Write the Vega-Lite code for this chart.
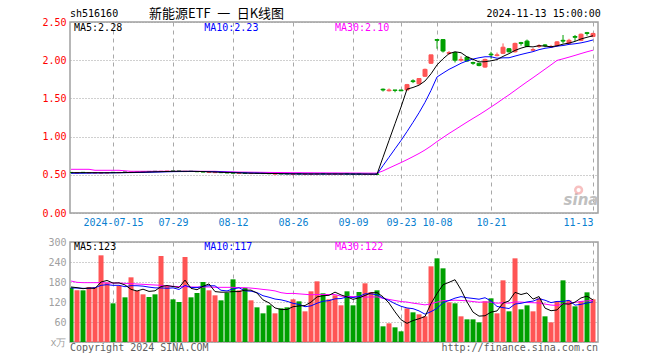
{
"$schema":"https://vega.github.io/schema/vega-lite/v6.json",
"autosize":{"type":"pad"},
"padding":{"left":41,"top":6,"right":0,"bottom":0},
"background":"white",
"spacing":29,
"bounds":"flush",
"datasets":{"k":[
{"i":0,"o":0.531,"h":0.533,"l":0.526,"c":0.528,"v":163,"d":"d","m5":0.528,"m10":0.520,"m30":0.572,"v5":165,"v10":162,"v30":183},
{"i":1,"o":0.524,"h":0.529,"l":0.522,"c":0.527,"v":155,"d":"u","m5":0.528,"m10":0.520,"m30":0.572,"v5":163,"v10":162,"v30":179},
{"i":2,"o":0.532,"h":0.534,"l":0.527,"c":0.529,"v":155,"d":"d","m5":0.528,"m10":0.521,"m30":0.572,"v5":160,"v10":161,"v30":178},
{"i":3,"o":0.525,"h":0.530,"l":0.523,"c":0.528,"v":165,"d":"u","m5":0.528,"m10":0.522,"m30":0.572,"v5":162,"v10":161,"v30":178},
{"i":4,"o":0.524,"h":0.529,"l":0.522,"c":0.527,"v":165,"d":"u","m5":0.528,"m10":0.523,"m30":0.559,"v5":160.6,"v10":163,"v30":178},
{"i":5,"o":0.523,"h":0.528,"l":0.521,"c":0.526,"v":260,"d":"u","m5":0.527,"m10":0.524,"m30":0.559,"v5":180,"v10":170,"v30":178},
{"i":6,"o":0.524,"h":0.529,"l":0.522,"c":0.527,"v":178,"d":"u","m5":0.527,"m10":0.525,"m30":0.559,"v5":184.6,"v10":172,"v30":177},
{"i":7,"o":0.532,"h":0.534,"l":0.527,"c":0.529,"v":116,"d":"d","m5":0.527,"m10":0.526,"m30":0.559,"v5":176.8,"v10":170,"v30":177},
{"i":8,"o":0.528,"h":0.533,"l":0.526,"c":0.531,"v":168,"d":"u","m5":0.528,"m10":0.527,"m30":0.559,"v5":177.4,"v10":170,"v30":177},
{"i":9,"o":0.536,"h":0.538,"l":0.531,"c":0.533,"v":134,"d":"d","m5":0.529,"m10":0.528,"m30":0.552,"v5":171.2,"v10":165.9,"v30":176},
{"i":10,"o":0.532,"h":0.537,"l":0.530,"c":0.535,"v":194,"d":"u","m5":0.531,"m10":0.529,"m30":0.546,"v5":158,"v10":169,"v30":175},
{"i":11,"o":0.534,"h":0.539,"l":0.532,"c":0.537,"v":153,"d":"u","m5":0.533,"m10":0.530,"m30":0.546,"v5":153,"v10":168.8,"v30":174},
{"i":12,"o":0.536,"h":0.541,"l":0.534,"c":0.539,"v":143,"d":"u","m5":0.535,"m10":0.531,"m30":0.546,"v5":158.4,"v10":167.6,"v30":173},
{"i":13,"o":0.544,"h":0.546,"l":0.539,"c":0.541,"v":135,"d":"d","m5":0.537,"m10":0.533,"m30":0.546,"v5":151.8,"v10":164.6,"v30":172},
{"i":14,"o":0.546,"h":0.548,"l":0.541,"c":0.543,"v":143,"d":"d","m5":0.539,"m10":0.535,"m30":0.546,"v5":153.6,"v10":162.4,"v30":171},
{"i":15,"o":0.543,"h":0.548,"l":0.541,"c":0.546,"v":258,"d":"u","m5":0.541,"m10":0.537,"m30":0.546,"v5":166.4,"v10":162.2,"v30":170},
{"i":16,"o":0.545,"h":0.550,"l":0.543,"c":0.548,"v":168,"d":"u","m5":0.543,"m10":0.539,"m30":0.546,"v5":169.4,"v10":161.2,"v30":168},
{"i":17,"o":0.550,"h":0.552,"l":0.545,"c":0.547,"v":128,"d":"d","m5":0.545,"m10":0.541,"m30":0.546,"v5":166.4,"v10":162.4,"v30":167},
{"i":18,"o":0.549,"h":0.551,"l":0.544,"c":0.546,"v":120,"d":"d","m5":0.546,"m10":0.542,"m30":0.546,"v5":163.4,"v10":157.6,"v30":166},
{"i":19,"o":0.542,"h":0.547,"l":0.540,"c":0.545,"v":255,"d":"u","m5":0.546,"m10":0.543,"m30":0.546,"v5":185.8,"v10":169.7,"v30":166},
{"i":20,"o":0.546,"h":0.548,"l":0.541,"c":0.543,"v":134,"d":"d","m5":0.546,"m10":0.544,"m30":0.546,"v5":161,"v10":163.7,"v30":165},
{"i":21,"o":0.543,"h":0.545,"l":0.538,"c":0.540,"v":147,"d":"d","m5":0.544,"m10":0.544,"m30":0.546,"v5":156.8,"v10":163.1,"v30":165},
{"i":22,"o":0.540,"h":0.542,"l":0.535,"c":0.537,"v":180,"d":"d","m5":0.542,"m10":0.543,"m30":0.546,"v5":167.2,"v10":166.8,"v30":165},
{"i":23,"o":0.531,"h":0.536,"l":0.529,"c":0.534,"v":155,"d":"u","m5":0.539,"m10":0.542,"m30":0.546,"v5":174.2,"v10":168.8,"v30":165},
{"i":24,"o":0.528,"h":0.533,"l":0.526,"c":0.531,"v":140,"d":"u","m5":0.537,"m10":0.540,"m30":0.546,"v5":151.2,"v10":168.5,"v30":164},
{"i":25,"o":0.531,"h":0.533,"l":0.526,"c":0.528,"v":125,"d":"d","m5":0.533,"m10":0.538,"m30":0.542,"v5":149.4,"v10":155.2,"v30":164},
{"i":26,"o":0.528,"h":0.530,"l":0.523,"c":0.525,"v":148,"d":"d","m5":0.530,"m10":0.535,"m30":0.540,"v5":149.6,"v10":153.2,"v30":164},
{"i":27,"o":0.526,"h":0.528,"l":0.521,"c":0.523,"v":188,"d":"d","m5":0.527,"m10":0.532,"m30":0.538,"v5":151.2,"v10":159.2,"v30":164},
{"i":28,"o":0.518,"h":0.523,"l":0.516,"c":0.521,"v":155,"d":"u","m5":0.525,"m10":0.529,"m30":0.536,"v5":151.2,"v10":162.7,"v30":163},
{"i":29,"o":0.523,"h":0.525,"l":0.518,"c":0.520,"v":162,"d":"d","m5":0.523,"m10":0.526,"m30":0.535,"v5":155.6,"v10":153.4,"v30":163},
{"i":30,"o":0.516,"h":0.521,"l":0.514,"c":0.519,"v":125,"d":"u","m5":0.521,"m10":0.524,"m30":0.534,"v5":155.6,"v10":152.5,"v30":161.7},
{"i":31,"o":0.521,"h":0.523,"l":0.516,"c":0.518,"v":104,"d":"d","m5":0.520,"m10":0.522,"m30":0.533,"v5":146.8,"v10":148.2,"v30":160},
{"i":32,"o":0.519,"h":0.521,"l":0.514,"c":0.516,"v":86,"d":"d","m5":0.519,"m10":0.520,"m30":0.532,"v5":126.4,"v10":138.8,"v30":157.7},
{"i":33,"o":0.517,"h":0.519,"l":0.512,"c":0.514,"v":110,"d":"d","m5":0.517,"m10":0.518,"m30":0.531,"v5":117.4,"v10":134.3,"v30":155.9},
{"i":34,"o":0.510,"h":0.515,"l":0.508,"c":0.513,"v":86,"d":"u","m5":0.516,"m10":0.517,"m30":0.530,"v5":102.2,"v10":128.9,"v30":153.3},
{"i":35,"o":0.515,"h":0.517,"l":0.510,"c":0.512,"v":101,"d":"d","m5":0.515,"m10":0.515,"m30":0.530,"v5":97.4,"v10":126.5,"v30":148},
{"i":36,"o":0.515,"h":0.517,"l":0.510,"c":0.512,"v":104,"d":"d","m5":0.513,"m10":0.514,"m30":0.529,"v5":97.4,"v10":122.1,"v30":145.5},
{"i":37,"o":0.508,"h":0.513,"l":0.506,"c":0.511,"v":128,"d":"u","m5":0.512,"m10":0.513,"m30":0.528,"v5":105.8,"v10":116.1,"v30":145.9},
{"i":38,"o":0.514,"h":0.516,"l":0.509,"c":0.511,"v":122,"d":"d","m5":0.512,"m10":0.512,"m30":0.528,"v5":108.2,"v10":112.8,"v30":144.4},
{"i":39,"o":0.507,"h":0.512,"l":0.505,"c":0.510,"v":92,"d":"u","m5":0.511,"m10":0.512,"m30":0.527,"v5":109.4,"v10":105.8,"v30":143},
{"i":40,"o":0.508,"h":0.513,"l":0.506,"c":0.511,"v":152,"d":"u","m5":0.511,"m10":0.511,"m30":0.527,"v5":119.6,"v10":108.5,"v30":141.6},
{"i":41,"o":0.509,"h":0.514,"l":0.507,"c":0.512,"v":182,"d":"u","m5":0.511,"m10":0.511,"m30":0.526,"v5":135.2,"v10":116.3,"v30":142.5},
{"i":42,"o":0.515,"h":0.517,"l":0.510,"c":0.512,"v":146,"d":"d","m5":0.511,"m10":0.511,"m30":0.526,"v5":138.8,"v10":122.3,"v30":142.6},
{"i":43,"o":0.508,"h":0.513,"l":0.506,"c":0.511,"v":128,"d":"u","m5":0.511,"m10":0.511,"m30":0.525,"v5":140,"v10":124.1,"v30":142.4},
{"i":44,"o":0.508,"h":0.513,"l":0.506,"c":0.511,"v":140,"d":"u","m5":0.511,"m10":0.511,"m30":0.525,"v5":149.6,"v10":129.5,"v30":142.3},
{"i":45,"o":0.507,"h":0.512,"l":0.505,"c":0.510,"v":110,"d":"u","m5":0.511,"m10":0.511,"m30":0.524,"v5":141.2,"v10":130.4,"v30":137.4},
{"i":46,"o":0.513,"h":0.515,"l":0.508,"c":0.510,"v":152,"d":"d","m5":0.511,"m10":0.511,"m30":0.524,"v5":135.2,"v10":135.2,"v30":136.8},
{"i":47,"o":0.512,"h":0.514,"l":0.507,"c":0.509,"v":110,"d":"d","m5":0.510,"m10":0.510,"m30":0.523,"v5":128,"v10":133.4,"v30":136.2},
{"i":48,"o":0.512,"h":0.514,"l":0.507,"c":0.509,"v":150,"d":"d","m5":0.510,"m10":0.510,"m30":0.523,"v5":132.4,"v10":136.2,"v30":137.2},
{"i":49,"o":0.505,"h":0.510,"l":0.503,"c":0.508,"v":176,"d":"u","m5":0.509,"m10":0.510,"m30":0.522,"v5":139.6,"v10":144.6,"v30":134.6},
{"i":50,"o":0.505,"h":0.510,"l":0.503,"c":0.508,"v":150,"d":"u","m5":0.509,"m10":0.509,"m30":0.522,"v5":147.6,"v10":144.4,"v30":135.1},
{"i":51,"o":0.510,"h":0.512,"l":0.505,"c":0.507,"v":155,"d":"d","m5":0.508,"m10":0.509,"m30":0.522,"v5":148.2,"v10":141.7,"v30":135.4},
{"i":52,"o":1.62,"h":1.63,"l":1.59,"c":1.61,"v":47,"d":"d","m5":0.73,"m10":0.62,"m30":0.551,"v5":135.6,"v10":131.8,"v30":131},
{"i":53,"o":1.60,"h":1.63,"l":1.59,"c":1.61,"v":56,"d":"u","m5":0.95,"m10":0.73,"m30":0.588,"v5":116.8,"v10":124.6,"v30":127.7},
{"i":54,"o":1.61,"h":1.61,"l":1.58,"c":1.605,"v":44,"d":"d","m5":1.169,"m10":0.840,"m30":0.624,"v5":90.4,"v10":115,"v30":124.5},
{"i":55,"o":1.61,"h":1.61,"l":1.595,"c":1.60,"v":32,"d":"d","m5":1.387,"m10":0.949,"m30":0.660,"v5":66.8,"v10":107.2,"v30":121.4},
{"i":56,"o":1.61,"h":1.69,"l":1.61,"c":1.68,"v":101,"d":"u","m5":1.621,"m10":1.066,"m30":0.698,"v5":56,"v10":102.1,"v30":119.8},
{"i":57,"o":1.73,"h":1.75,"l":1.70,"c":1.72,"v":89,"d":"d","m5":1.643,"m10":1.187,"m30":0.738,"v5":64.4,"v10":100,"v30":116.5},
{"i":58,"o":1.69,"h":1.76,"l":1.68,"c":1.76,"v":83,"d":"u","m5":1.673,"m10":1.312,"m30":0.779,"v5":69.8,"v10":93.3,"v30":114.1},
{"i":59,"o":1.79,"h":1.89,"l":1.78,"c":1.88,"v":77,"d":"u","m5":1.728,"m10":1.449,"m30":0.825,"v5":76.4,"v10":83.4,"v30":111.3},
{"i":60,"o":1.96,"h":2.07,"l":1.95,"c":2.07,"v":227,"d":"u","m5":1.822,"m10":1.605,"m30":0.877,"v5":115.4,"v10":91.1,"v30":114.7},
{"i":61,"o":2.27,"h":2.27,"l":2.15,"c":2.26,"v":251,"d":"d","m5":1.938,"m10":1.780,"m30":0.935,"v5":145.4,"v10":100.7,"v30":119.6},
{"i":62,"o":2.27,"h":2.27,"l":2.10,"c":2.12,"v":221,"d":"d","m5":2.018,"m10":1.831,"m30":0.988,"v5":171.8,"v10":118.1,"v30":124.1},
{"i":63,"o":2.09,"h":2.12,"l":2.07,"c":2.10,"v":119,"d":"u","m5":2.086,"m10":1.880,"m30":1.041,"v5":179,"v10":124.4,"v30":124.4},
{"i":64,"o":2.10,"h":2.11,"l":1.97,"c":2.00,"v":116,"d":"d","m5":2.11,"m10":1.919,"m30":1.090,"v5":186.8,"v10":131.6,"v30":125.4},
{"i":65,"o":2.00,"h":2.05,"l":1.98,"c":2.01,"v":77,"d":"u","m5":2.098,"m10":1.96,"m30":1.140,"v5":156.8,"v10":136.1,"v30":124.6},
{"i":66,"o":2.04,"h":2.04,"l":1.98,"c":1.99,"v":68,"d":"d","m5":2.044,"m10":1.991,"m30":1.190,"v5":120.2,"v10":132.8,"v30":123.4},
{"i":67,"o":1.97,"h":1.98,"l":1.94,"c":1.96,"v":68,"d":"d","m5":2.012,"m10":2.015,"m30":1.238,"v5":89.6,"v10":130.7,"v30":121.4},
{"i":68,"o":1.96,"h":1.96,"l":1.92,"c":1.93,"v":59,"d":"d","m5":1.978,"m10":2.032,"m30":1.285,"v5":77.6,"v10":128.3,"v30":119.3},
{"i":69,"o":1.91,"h":2.02,"l":1.90,"c":2.01,"v":122,"d":"u","m5":1.98,"m10":2.045,"m30":1.335,"v5":78.8,"v10":132.8,"v30":120.3},
{"i":70,"o":2.08,"h":2.11,"l":2.02,"c":2.07,"v":131,"d":"d","m5":1.992,"m10":2.045,"m30":1.387,"v5":89.6,"v10":123.2,"v30":119.6},
{"i":71,"o":2.06,"h":2.10,"l":2.05,"c":2.07,"v":86,"d":"u","m5":2.008,"m10":2.026,"m30":1.439,"v5":93.2,"v10":106.7,"v30":116.4},
{"i":72,"o":2.09,"h":2.22,"l":2.08,"c":2.17,"v":185,"d":"u","m5":2.05,"m10":2.031,"m30":1.494,"v5":116.6,"v10":103.1,"v30":117.7},
{"i":73,"o":2.15,"h":2.16,"l":2.10,"c":2.11,"v":92,"d":"d","m5":2.086,"m10":2.032,"m30":1.547,"v5":123.2,"v10":100.4,"v30":116.5},
{"i":74,"o":2.11,"h":2.23,"l":2.10,"c":2.22,"v":251,"d":"u","m5":2.128,"m10":2.054,"m30":1.604,"v5":149,"v10":113.9,"v30":120.2},
{"i":75,"o":2.23,"h":2.24,"l":2.19,"c":2.22,"v":98,"d":"d","m5":2.158,"m10":2.075,"m30":1.661,"v5":142.4,"v10":116,"v30":119.8},
{"i":76,"o":2.25,"h":2.27,"l":2.17,"c":2.18,"v":110,"d":"d","m5":2.18,"m10":2.094,"m30":1.717,"v5":147.2,"v10":120.2,"v30":118.4},
{"i":77,"o":2.13,"h":2.16,"l":2.12,"c":2.14,"v":92,"d":"u","m5":2.174,"m10":2.112,"m30":1.771,"v5":128.6,"v10":122.6,"v30":117.8},
{"i":78,"o":2.18,"h":2.21,"l":2.16,"c":2.19,"v":131,"d":"u","m5":2.19,"m10":2.138,"m30":1.827,"v5":136.4,"v10":129.8,"v30":117.1},
{"i":79,"o":2.20,"h":2.21,"l":2.17,"c":2.19,"v":77,"d":"d","m5":2.184,"m10":2.156,"m30":1.883,"v5":101.6,"v10":125.3,"v30":113.8},
{"i":80,"o":2.17,"h":2.20,"l":2.16,"c":2.18,"v":59,"d":"u","m5":2.176,"m10":2.167,"m30":1.939,"v5":93.8,"v10":118.1,"v30":110.8},
{"i":81,"o":2.19,"h":2.25,"l":2.18,"c":2.24,"v":122,"d":"u","m5":2.188,"m10":2.184,"m30":1.997,"v5":96.2,"v10":121.7,"v30":109.7},
{"i":82,"o":2.26,"h":2.33,"l":2.22,"c":2.25,"v":185,"d":"d","m5":2.21,"m10":2.192,"m30":2.018,"v5":114.8,"v10":121.7,"v30":114.3},
{"i":83,"o":2.22,"h":2.28,"l":2.21,"c":2.26,"v":125,"d":"u","m5":2.224,"m10":2.207,"m30":2.040,"v5":113.6,"v10":125,"v30":116.6},
{"i":84,"o":2.31,"h":2.33,"l":2.25,"c":2.30,"v":107,"d":"d","m5":2.246,"m10":2.215,"m30":2.063,"v5":119.6,"v10":110.6,"v30":118.7},
{"i":85,"o":2.26,"h":2.35,"l":2.25,"c":2.34,"v":122,"d":"u","m5":2.278,"m10":2.227,"m30":2.087,"v5":132.2,"v10":113,"v30":121.7},
{"i":86,"o":2.36,"h":2.37,"l":2.32,"c":2.35,"v":149,"d":"d","m5":2.30,"m10":2.244,"m30":2.110,"v5":137.6,"v10":116.9,"v30":123.3},
{"i":87,"o":2.31,"h":2.36,"l":2.30,"c":2.35,"v":128,"d":"u","m5":2.32,"m10":2.265,"m30":2.131,"v5":126.2,"v10":120.5,"v30":124.6}
]},
"vconcat":[
{
"width":528,"height":191,
"layer":[
{"data":{"name":"k"},"mark":{"type":"rule","strokeWidth":1,"clip":true},
 "encoding":{
  "x":{"field":"i","type":"quantitative","scale":{"domain":[-0.17,87.83],"nice":false,"zero":false,"padding":0},
       "axis":{"values":[7,17,27,37,47,55,61,70,87],"tickCount":20,"grid":true,"gridDash":[4,4],"gridColor":"#a8a8a8","labelColor":"#0a80d0","labelPadding":4,"title":null,"labelOverlap":false,"labelBound":false,
       "labelAlign":{"condition":{"test":"datum.value==87","value":"right"},"value":"center"},
       "labelExpr":"datum.value==7?'2024-07-15':datum.value==17?'07-29':datum.value==27?'08-12':datum.value==37?'08-26':datum.value==47?'09-09':datum.value==55?'09-23':datum.value==61?'10-08':datum.value==70?'10-21':'11-13'"}},
  "y":{"field":"l","type":"quantitative","scale":{"domain":[0,2.5],"nice":false,"zero":false},
       "axis":{"values":[0,0.5,1,1.5,2,2.5],"tickCount":10,"grid":true,"gridDash":[1,2],"gridColor":"#a0a0a0","labelColor":"#ff0000","labelPadding":4,"title":null,"labelOverlap":false,"labelFlush":false,"labelBound":false,
       "labelExpr":"format(datum.value,'.2f')"}},
  "y2":{"field":"h"},
  "color":{"field":"d","type":"nominal","scale":{"domain":["u","d"],"range":["#ff5555","#00a000"]},"legend":null}}},
{"data":{"name":"k"},"mark":{"type":"bar","width":4,"strokeWidth":1,"clip":true},
 "encoding":{
  "x":{"field":"i","type":"quantitative"},
  "y":{"field":"o","type":"quantitative"},
  "y2":{"field":"c"},
  "color":{"field":"d","type":"nominal","legend":null},
  "stroke":{"field":"d","type":"nominal","scale":{"domain":["u","d"],"range":["#ff5555","#00a000"]},"legend":null}}},
{"data":{"name":"k"},"mark":{"type":"line","color":"#ff00ff","strokeWidth":1,"clip":true},
 "encoding":{"x":{"field":"i","type":"quantitative"},"y":{"field":"m30","type":"quantitative"}}},
{"data":{"name":"k"},"mark":{"type":"line","color":"#0000ff","strokeWidth":1,"clip":true},
 "encoding":{"x":{"field":"i","type":"quantitative"},"y":{"field":"m10","type":"quantitative"}}},
{"data":{"name":"k"},"mark":{"type":"line","color":"#000000","strokeWidth":1,"clip":true},
 "encoding":{"x":{"field":"i","type":"quantitative"},"y":{"field":"m5","type":"quantitative"}}},
{"data":{"values":[{"t":"MA5:2.28"}]},"mark":{"type":"text","align":"left","baseline":"middle","font":"DejaVu Sans Mono","fontSize":10,"color":"#000000"},
 "encoding":{"x":{"datum":0.5},"y":{"datum":2.425},"text":{"field":"t"}}},
{"data":{"values":[{"t":"MA10:2.23"}]},"mark":{"type":"text","align":"left","baseline":"middle","font":"DejaVu Sans Mono","fontSize":10,"color":"#0000ff"},
 "encoding":{"x":{"datum":22.2},"y":{"datum":2.425},"text":{"field":"t"}}},
{"data":{"values":[{"t":"MA30:2.10"}]},"mark":{"type":"text","align":"left","baseline":"middle","font":"DejaVu Sans Mono","fontSize":10,"color":"#ff00ff"},
 "encoding":{"x":{"datum":44.0},"y":{"datum":2.425},"text":{"field":"t"}}},
{"data":{"values":[{"t":"sh516160"}]},"mark":{"type":"text","align":"left","baseline":"middle","font":"DejaVu Sans Mono","fontSize":10,"color":"#000000"},
 "encoding":{"x":{"datum":-0.17},"y":{"datum":2.61},"text":{"field":"t"}}},
{"data":{"values":[{"t":"新能源ETF\u2002一\u2002日K线图"}]},"mark":{"type":"text","align":"left","baseline":"middle","font":"Noto Sans CJK SC","fontSize":13,"color":"#000000"},
 "encoding":{"x":{"datum":13.0},"y":{"datum":2.61},"text":{"field":"t"}}},
{"data":{"values":[{"t":"2024-11-13 15:00:00"}]},"mark":{"type":"text","align":"right","baseline":"middle","font":"DejaVu Sans Mono","fontSize":10,"color":"#000000"},
 "encoding":{"x":{"datum":88.3},"y":{"datum":2.61},"text":{"field":"t"}}},
{"data":{"values":[{"t":"sina"}]},"mark":{"type":"text","align":"center","baseline":"middle","font":"DejaVu Sans","fontSize":15,"fontStyle":"italic","fontWeight":"bold","color":"#c0c0c0"},
 "encoding":{"x":{"datum":85.0},"y":{"datum":0.17},"text":{"field":"t"}}},
{"data":{"values":[{"t":"eye"}]},"mark":{"type":"point","filled":false,"size":45,"strokeWidth":2.5,"color":"#f4a6a6"},
 "encoding":{"x":{"datum":84.6},"y":{"datum":0.30}}}
]
},
{
"width":528,"height":100,
"layer":[
{"data":{"name":"k"},"mark":{"type":"bar","width":5,"clip":true},
 "encoding":{
  "x":{"field":"i","type":"quantitative","scale":{"domain":[-0.17,87.83],"nice":false,"zero":false,"padding":0},
       "axis":{"values":[7,17,27,37,47,55,61,70,87],"tickCount":20,"grid":true,"gridDash":[4,4],"gridColor":"#a8a8a8","labels":false,"title":null}},
  "y":{"field":"v","type":"quantitative","scale":{"domain":[0,300],"nice":false},
       "axis":{"values":[0,60,120,180,240,300],"tickCount":10,"grid":true,"gridDash":[1,2],"gridColor":"#a0a0a0","labelColor":"#a0a0a0","labelPadding":4,"title":null,"labelOverlap":false,"labelFlush":false,"labelBound":false,
       "labelExpr":"datum.value==0?'x万':format(datum.value,'d')"}},
  "color":{"field":"d","type":"nominal","scale":{"domain":["u","d"],"range":["#ff5555","#00a000"]},"legend":null}}},
{"data":{"name":"k"},"mark":{"type":"line","color":"#ff00ff","strokeWidth":1,"clip":true},
 "encoding":{"x":{"field":"i","type":"quantitative"},"y":{"field":"v30","type":"quantitative"}}},
{"data":{"name":"k"},"mark":{"type":"line","color":"#0000ff","strokeWidth":1,"clip":true},
 "encoding":{"x":{"field":"i","type":"quantitative"},"y":{"field":"v10","type":"quantitative"}}},
{"data":{"name":"k"},"mark":{"type":"line","color":"#000000","strokeWidth":1,"clip":true},
 "encoding":{"x":{"field":"i","type":"quantitative"},"y":{"field":"v5","type":"quantitative"}}},
{"data":{"values":[{"t":"MA5:123"}]},"mark":{"type":"text","align":"left","baseline":"middle","font":"DejaVu Sans Mono","fontSize":10,"color":"#000000"},
 "encoding":{"x":{"datum":0.5},"y":{"datum":285},"text":{"field":"t"}}},
{"data":{"values":[{"t":"MA10:117"}]},"mark":{"type":"text","align":"left","baseline":"middle","font":"DejaVu Sans Mono","fontSize":10,"color":"#0000ff"},
 "encoding":{"x":{"datum":22.2},"y":{"datum":285},"text":{"field":"t"}}},
{"data":{"values":[{"t":"MA30:122"}]},"mark":{"type":"text","align":"left","baseline":"middle","font":"DejaVu Sans Mono","fontSize":10,"color":"#ff00ff"},
 "encoding":{"x":{"datum":44.0},"y":{"datum":285},"text":{"field":"t"}}},
{"data":{"values":[{"t":"Copyright 2024 SINA.COM"}]},"mark":{"type":"text","align":"left","baseline":"middle","font":"DejaVu Sans Mono","fontSize":10,"color":"#606060"},
 "encoding":{"x":{"datum":-0.17},"y":{"datum":-19},"text":{"field":"t"}}},
{"data":{"values":[{"t":"http://finance.sina.com.cn"}]},"mark":{"type":"text","align":"right","baseline":"middle","font":"DejaVu Sans Mono","fontSize":10,"color":"#606060"},
 "encoding":{"x":{"datum":87.83},"y":{"datum":-19},"text":{"field":"t"}}}
]
}
],
"config":{
 "view":{"stroke":"#a0a0a0","strokeWidth":1.5},
 "axis":{"labelFont":"DejaVu Sans Mono","labelFontSize":10,"ticks":false,"domain":false,"gridWidth":1,"labelOverlap":false,"labelFlush":false}
}
}
